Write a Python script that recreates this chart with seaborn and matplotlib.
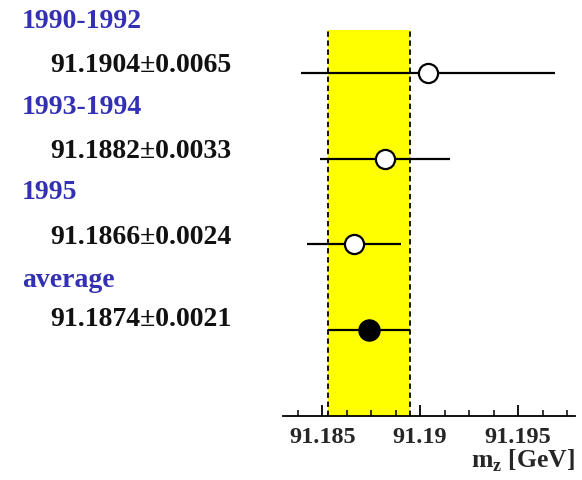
import matplotlib
matplotlib.use("Agg")
import matplotlib.pyplot as plt
from matplotlib.ticker import MultipleLocator
import seaborn as sns
import pandas as pd

# ---- data ----
periods = ["1990-1992", "1993-1994", "1995", "average"]
mz_values = [91.1904, 91.1882, 91.1866, 91.1874]
mz_errors = [0.0065, 0.0033, 0.0024, 0.0021]
tick_values = [91.185, 91.19, 91.195]
tick_labels = ["91.185", "91.19", "91.195"]
x_label = "m$_{\\mathregular{z}}$ [GeV]"

df = pd.DataFrame({"period": periods, "mz": mz_values, "err": mz_errors,
                   "row": list(range(1, len(periods) + 1))})

sns.set_style("white")
plt.rcParams["font.family"] = ["Liberation Serif", "DejaVu Serif"]

W, H = 582, 481
fig = plt.figure(figsize=(W / 100, H / 100), dpi=100)
ax = fig.add_axes([283 / W, (H - 417) / H, (575 - 283) / W, (417 - 31) / H])

avg = df.iloc[-1]
lo, hi = avg["mz"] - avg["err"], avg["mz"] + avg["err"]
ax.axvspan(lo, hi, color="#ffff00", zorder=0, lw=0)
ax.axvline(lo, color="black", ls=(0, (3, 2)), lw=1.3, zorder=1)
ax.axvline(hi, color="black", ls=(0, (3, 2)), lw=1.3, zorder=1)

ax.hlines(df["row"], df["mz"] - df["err"], df["mz"] + df["err"],
          color="black", lw=1.6, zorder=2)

meas = df.iloc[:-1]
sns.scatterplot(data=meas, x="mz", y="row", ax=ax, marker="o", s=190,
                color="white", edgecolor="black", linewidth=1.6, zorder=3, legend=False)
sns.scatterplot(data=df.iloc[-1:], x="mz", y="row", ax=ax, marker="o", s=230,
                color="black", edgecolor="black", linewidth=1, zorder=3, legend=False)

ax.set_xlim(91.183, 91.1979)
ax.set_ylim(5, 0.5)
ax.set_yticks([])
ax.set_ylabel("")
ax.set_xlabel("")
for s in ["left", "right", "top"]:
    ax.spines[s].set_visible(False)
ax.spines["bottom"].set_color("black")
ax.spines["bottom"].set_linewidth(1.3)
ax.set_xticks(tick_values)
ax.set_xticklabels(tick_labels, fontsize=17.5, fontweight="bold")
ax.xaxis.set_minor_locator(MultipleLocator(0.00125))
ax.tick_params(axis="x", which="major", direction="in", length=8, width=1.3,
               pad=7, bottom=True, color="black")
ax.tick_params(axis="x", which="minor", direction="in", length=4, width=1.1,
               bottom=True, color="black")
ax.patch.set_alpha(0)

fig.text(575 / W, 1 - 448 / H, x_label, ha="right", va="top",
         fontsize=18.5, fontweight="bold")

# left-hand labels
head_y = [21, 107, 193, 281]
val_y = [66, 152, 238, 320]
for p, v, e, hy, vy in zip(periods, mz_values, mz_errors, head_y, val_y):
    fig.text(22 / W, 1 - hy / H, p, ha="left", va="center", fontsize=20,
             fontweight="bold", color="#3330b4")
    fig.text(50 / W, 1 - vy / H, f"{v:.4f}\u00b1{e:.4f}", ha="left", va="center",
             fontsize=20, fontweight="bold", color="#111111")

fig.savefig("out.png", dpi=100)
